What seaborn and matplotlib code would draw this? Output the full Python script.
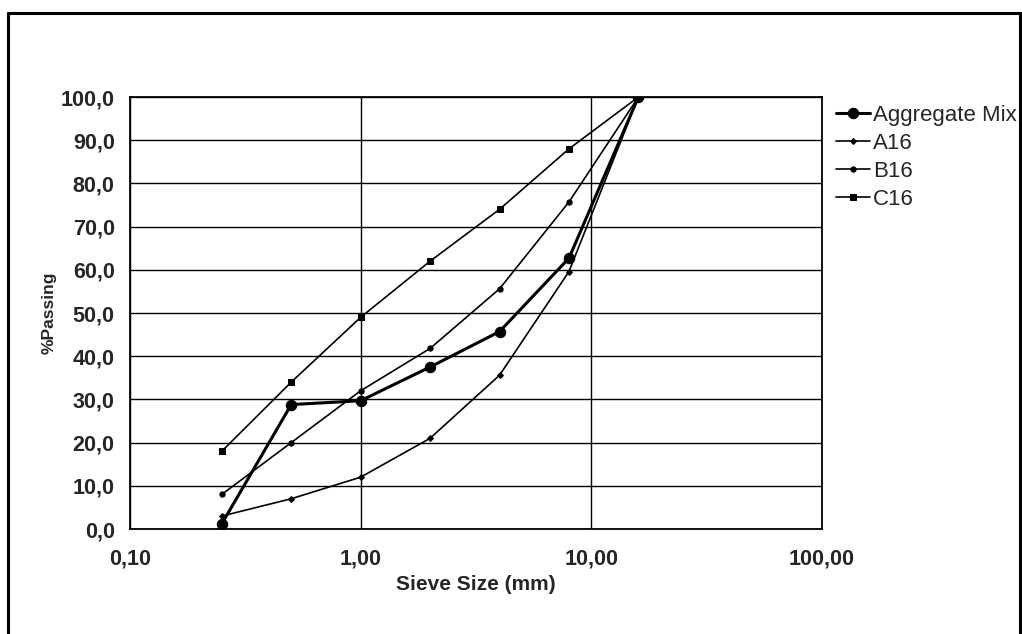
import numpy as np
import pandas as pd
import matplotlib
matplotlib.use("Agg")
import matplotlib.pyplot as plt
import seaborn as sns
from matplotlib.lines import Line2D
from matplotlib.ticker import FixedLocator, FuncFormatter

# sieve sizes (mm) and % passing
sieve_mm = [0.25, 0.5, 1, 2, 4, 8, 16]
aggregate_mix = [1.2, 28.8, 29.7, 37.5, 45.7, 62.7, 100.0]
a16 = [3, 7, 12, 21, 35.6, 59.6, 100]
b16 = [8, 20, 32, 41.8, 55.6, 75.7, 100]
c16 = [18, 34, 49, 62, 74, 88, 100]

series_names = ["Aggregate Mix", "A16", "B16", "C16"]
x_ticks = [0.1, 1, 10, 100]
y_ticks = list(range(0, 101, 10))

sns.set_theme(style="white")
plt.rcParams["font.family"] = ["Liberation Sans", "DejaVu Sans"]

df = pd.DataFrame({
    "size": sieve_mm * 4,
    "passing": aggregate_mix + a16 + b16 + c16,
    "series": sum([[n] * len(sieve_mm) for n in series_names], []),
})

fig = plt.figure(figsize=(10.22, 6.34), dpi=100)
ax = fig.add_axes([0.1272, 0.1656, 0.6771, 0.6814])

styles = {
    "Aggregate Mix": dict(lw=2.2, marker="o", ms=7.5),
    "A16": dict(lw=1.2, marker="D", ms=3),
    "B16": dict(lw=1.2, marker="o", ms=3.8),
    "C16": dict(lw=1.2, marker="s", ms=4),
}
for name in series_names:
    sub = df[df["series"] == name]
    st = styles[name]
    sns.lineplot(data=sub, x="size", y="passing", ax=ax, color="black",
                 linewidth=st["lw"], marker=st["marker"], markersize=st["ms"],
                 markeredgecolor="black", markerfacecolor="black", label=name,
                 zorder=4 if name == "Aggregate Mix" else 3)

ax.set_xscale("log")
ax.set_xlim(0.1, 100)
ax.set_ylim(0, 100)
ax.xaxis.set_major_locator(FixedLocator(x_ticks))
ax.xaxis.set_minor_locator(FixedLocator([]))
ax.xaxis.set_major_formatter(FuncFormatter(lambda v, p: f"{v:.2f}".replace(".", ",")))
ax.set_yticks(y_ticks)
ax.yaxis.set_major_formatter(FuncFormatter(lambda v, p: f"{v:.1f}".replace(".", ",")))
ax.grid(True, color="black", linewidth=1.0)
ax.set_axisbelow(True)
for s in ax.spines.values():
    s.set_color("black")
    s.set_linewidth(1.3)
ax.tick_params(axis="both", direction="out", length=6, width=1, color="black",
               labelsize=15.5)
ax.tick_params(axis="x", pad=8)
ax.tick_params(axis="y", pad=5)
for lab in ax.get_xticklabels() + ax.get_yticklabels():
    lab.set_fontweight("bold")
ax.set_xlabel("Sieve Size (mm)", fontsize=15, fontweight="bold", labelpad=4)
ax.set_ylabel("%Passing", fontsize=12.5, fontweight="bold", labelpad=3)

handles, labels = ax.get_legend_handles_labels()
ax.legend(handles, labels, loc="upper left", bbox_to_anchor=(1.008, 1.003),
          frameon=False, fontsize=16, handlelength=1.5, handletextpad=0.15,
          labelspacing=0.32, borderaxespad=0)

# outer chart border (left, top, right)
fig.add_artist(Line2D([0.0075, 0.0075], [0, 0.9795], transform=fig.transFigure,
                      color="black", lw=2.2))
fig.add_artist(Line2D([0.0075, 1.0], [0.9795, 0.9795], transform=fig.transFigure,
                      color="black", lw=2.2))
fig.add_artist(Line2D([0.998, 0.998], [0, 0.9795], transform=fig.transFigure,
                      color="black", lw=2.2))

fig.savefig("out.png", dpi=100)
